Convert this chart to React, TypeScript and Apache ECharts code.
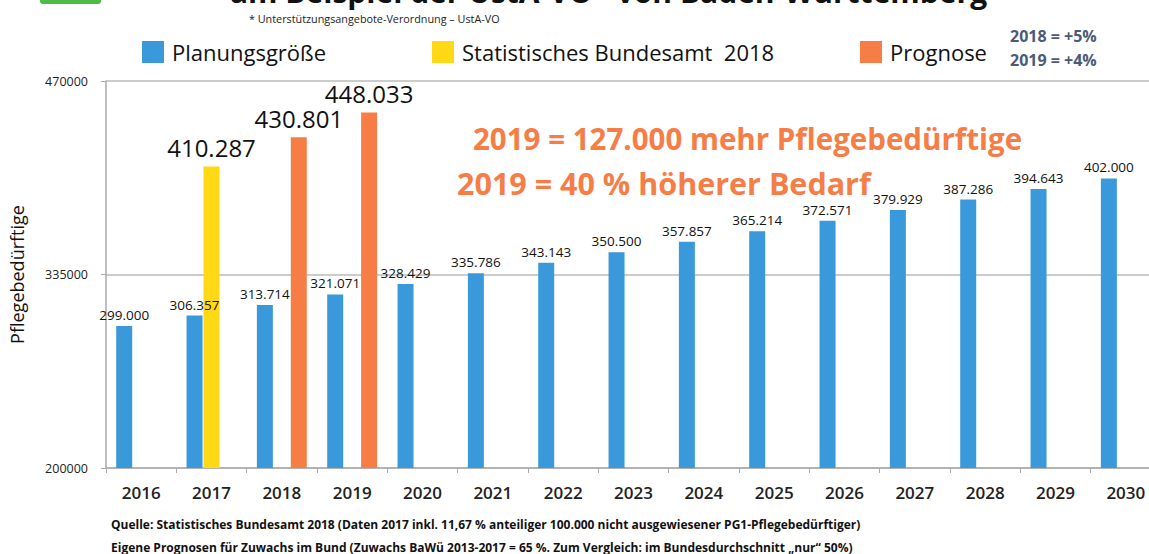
import React, { useEffect, useRef } from "react";
import * as echarts from "echarts";

const years = ["2016", "2017", "2018", "2019", "2020", "2021", "2022", "2023", "2024", "2025", "2026", "2027", "2028", "2029", "2030"];
const planungsgroesse = [299000, 306357, 313714, 321071, 328429, 335786, 343143, 350500, 357857, 365214, 372571, 379929, 387286, 394643, 402000];
const statistischesBundesamt = [null, 410287, null, null, null, null, null, null, null, null, null, null, null, null, null];
const prognose = [null, null, 430801, 448033, null, null, null, null, null, null, null, null, null, null, null];
const yTicks = { min: 200000, max: 470000, step: 135000 };
const seriesNames = ["Planungsgröße", "Statistisches Bundesamt  2018", "Prognose"];
const colors = ["#3A99DA", "#FFD816", "#F67D45"];

const FONT = "Open Sans";

const fmt = (p: any) => (p.value == null ? "" : (p.value / 1000).toFixed(3));

const txt = (text: string, x: number, y: number, size: number, fill: string, weight: string = "normal", va: string = "middle") => ({
  type: "text",
  x,
  y,
  style: { text, fontSize: size, fontWeight: weight, fontFamily: FONT, fill, verticalAlign: va },
});

export default function App() {
  const ref = useRef<HTMLDivElement>(null);
  useEffect(() => {
    if (!ref.current) return;
    const chart = echarts.init(ref.current, null, { renderer: "svg" });
    const legendPos = [137, 427, 855];
    chart.setOption({
      animation: false,
      textStyle: { fontFamily: FONT },
      legend: seriesNames.map((n, i) => ({
        data: [n],
        left: legendPos[i],
        top: 36,
        itemWidth: 22,
        itemHeight: 22,
        icon: "rect",
        selectedMode: false,
        textStyle: { fontSize: 22, color: "#111", fontFamily: FONT, padding: [0, 0, 0, 3] },
      })),
      grid: { left: 106, right: -12, top: 81, bottom: 86, containLabel: false, outerBoundsMode: "none" },
      xAxis: {
        type: "category",
        data: years,
        axisLine: { lineStyle: { color: "#AAAAAA", width: 1.5 } },
        axisTick: { show: true, length: 5, lineStyle: { color: "#AAAAAA" } },
        axisLabel: { fontSize: 17, color: "#222", fontWeight: 600, margin: 16, fontFamily: FONT },
      },
      yAxis: {
        type: "value",
        min: yTicks.min,
        max: yTicks.max,
        interval: yTicks.step,
        name: "Pflegebedürftige",
        nameLocation: "middle",
        nameRotate: 90,
        nameGap: 80,
        nameTextStyle: { fontSize: 18, color: "#111", fontFamily: FONT },
        axisLine: { show: true, lineStyle: { color: "#AAAAAA", width: 1.5 } },
        axisTick: { show: true, length: 5, lineStyle: { color: "#AAAAAA" } },
        splitLine: { show: true, lineStyle: { color: "#BBBBBB", width: 1.5 } },
        axisLabel: { fontSize: 12.5, color: "#222", margin: 18, fontFamily: FONT, formatter: (v: number) => String(v) },
      },
      series: [
        {
          name: seriesNames[0],
          type: "bar",
          data: planungsgroesse,
          barWidth: 16,
          barGap: "6%",
          itemStyle: { color: colors[0] },
          label: { show: true, position: "top", distance: 4, fontSize: 13.5, color: "#111", fontFamily: FONT, formatter: fmt },
        },
        {
          name: seriesNames[1],
          type: "bar",
          data: statistischesBundesamt,
          barWidth: 16,
          barGap: "6%",
          itemStyle: { color: colors[1] },
          label: { show: true, position: "top", distance: 7, fontSize: 24, color: "#111", fontFamily: FONT, formatter: fmt },
        },
        {
          name: seriesNames[2],
          type: "bar",
          data: prognose,
          barWidth: 16,
          barGap: "6%",
          itemStyle: { color: colors[2] },
          label: { show: true, position: "top", distance: 7, fontSize: 24, color: "#111", fontFamily: FONT, formatter: fmt },
        },
      ],
      graphic: [
        { type: "rect", shape: { x: 40, y: -6, width: 61, height: 10, r: 3 }, style: { fill: "#4CBB47" } },
        txt("am Beispiel der UstA-VO* von Baden-Württemberg", 230, 6, 30, "#111", "bold", "bottom"),
        txt("* Unterstützungsangebote-Verordnung – UstA-VO", 249, 18, 10.8, "#222"),
        txt("2018 = +5%", 1010, 36, 16, "#4B5A78", "bold"),
        txt("2019 = +4%", 1010, 60, 16, "#4B5A78", "bold"),
        txt("2019 = 127.000 mehr Pflegebedürftige", 473, 138, 29.5, "#F67D45", "bold"),
        txt("2019 = 40 % höherer Bedarf", 457, 183, 30.5, "#F67D45", "bold"),
        txt("Quelle: Statistisches Bundesamt 2018 (Daten 2017 inkl. 11,67 % anteiliger 100.000 nicht ausgewiesener PG1-Pflegebedürftiger)", 111, 524, 12, "#111", "bold"),
        txt("Eigene Prognosen für Zuwachs im Bund (Zuwachs BaWü 2013-2017 = 65 %. Zum Vergleich: im Bundesdurchschnitt „nur“ 50%)", 111, 547, 12, "#111", "bold"),
      ],
    });
    return () => chart.dispose();
  }, []);
  return <div ref={ref} style={{ position: "fixed", left: 0, top: 0, width: 1149, height: 554, background: "#fff" }} />;
}
